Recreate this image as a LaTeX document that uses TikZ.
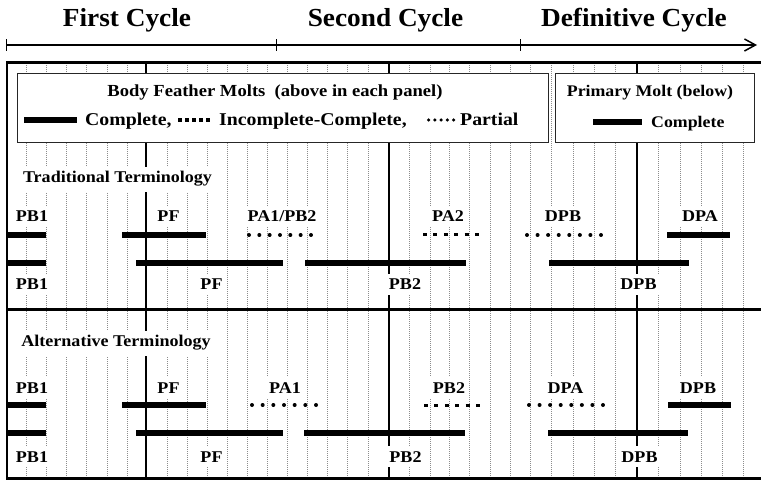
\documentclass[tikz,border=0pt]{standalone}
\usepackage{fontspec}
\setmainfont{Liberation Serif}[FakeStretch=1.1]
\newfontfamily\headfont{Liberation Serif}[FakeStretch=1.05]
\usetikzlibrary{arrows.meta}

\tikzset{
  head/.style={anchor=base, inner sep=0pt, font=\headfont\bfseries\fontsize{26}{26}\selectfont},
  lbl/.style={anchor=base, fill=white, inner xsep=3pt, inner ysep=5pt, font=\bfseries\fontsize{16.4}{16.4}\selectfont},
  legtext/.style={anchor=base, inner sep=0pt, font=\bfseries\fontsize{16.2}{16.2}\selectfont},
  keytext/.style={anchor=base west, inner sep=0pt, font=\bfseries\fontsize{18}{18}\selectfont},
  gridline/.style={gray!90, line width=0.5pt, dash pattern=on 1pt off 1pt},
  yearline/.style={black, line width=2pt},
  frameline/.style={black, line width=3pt},
  legendbox/.style={fill=white, draw=black!85, line width=0.8pt},
  complete/.style={line width=6pt},
  incomplete/.style={line width=3pt, dash pattern=on 4pt off 6.4pt},
  partial/.style={line width=4pt, line cap=round, dash pattern=on 0pt off #1},
}

\begin{document}
\begin{tikzpicture}[x=1pt,y=-1pt]
\useasboundingbox (0,0) rectangle (761,481);

% cycles along the time axis
\node[head] (first) at (127,27) {First Cycle};
\node[head] (second) at (385.5,27) {Second Cycle};
\node[head] (defin) at (634,27) {Definitive Cycle};

\coordinate (A0) at (6,45);
\coordinate (A1) at (276,45);
\coordinate (A2) at (520,45);
\coordinate (A3) at (757,45);
\draw[line width=1.5pt, -{Straight Barb[length=11pt,width=12pt]}] (A0) -- (A3);
\foreach \c in {A0,A1,A2}
  \draw[line width=1pt] ([yshift=-6pt]\c) -- ([yshift=6pt]\c);

% monthly grid
\foreach \x in {26,46,66.7,86.7,107,127,167,187,207,227,247,267,287,307,327,347,368,
                409,430,449,469,490,510,530,551,573,594,615,658,680,701,722,743}
  \draw[gridline] (\x,63) -- (\x,478);
\foreach \x in {146,389,637}
  \draw[yearline] (\x,63) -- (\x,478);

% legend
\draw[legendbox] (17,73) rectangle (548,142);
\draw[legendbox] (555,73) rectangle (754,142);

\node[legtext, font=\bfseries\fontsize{16.9}{16.9}\selectfont] (bodyttl) at (275,97) {Body Feather Molts\ \ (above in each panel)};
\draw[complete, line width=5.5pt] (24,120) -- (77,120);
\node[keytext] (kcomp) at (85,126) {Complete,};
\draw[line width=3.5pt, dash pattern=on 3.5pt off 3.6pt] (178,120) -- (213.5,120);
\node[keytext] (kincomp) at (219,126) {Incomplete-Complete,};
\draw[line width=3.5pt, line cap=round, dash pattern=on 0pt off 6.25pt] (428.5,120) -- (453.6,120);
\node[keytext] (kpart) at (460,126) {Partial};

\node[legtext] (primttl) at (650,97) {Primary Molt (below)};
\draw[complete] (593,122) -- (642,122);
\node[legtext, anchor=base west] (kprim) at (651,128) {Complete};

% Traditional Terminology
\node[lbl] (trad) at (117.5,183) {Traditional Terminology};
\node[lbl] (tPBa) at (32,222) {PB1};
\node[lbl] (tPFa) at (168.5,222) {PF};
\node[lbl] (tPAa) at (282,222) {PA1/PB2};
\node[lbl] (tPAb) at (448,222) {PA2};
\node[lbl] (tDPBa) at (563,222) {DPB};
\node[lbl] (tDPA) at (700,222) {DPA};

\draw[complete] (6,235) -- (46,235);
\draw[complete] (122,235) -- (206,235);
\draw[partial=10.33pt] (249,235) -- (311.1,235);
\draw[incomplete] (423,235) -- (479,235);
\draw[partial=10.57pt] (527,235) -- (601.1,235);
\draw[complete] (667,235) -- (730,235);

\draw[complete] (6,263) -- (46,263);
\draw[complete] (136,263) -- (283,263);
\draw[complete] (305,263) -- (466,263);
\draw[complete] (549,263) -- (689,263);

\node[lbl] (tPBb) at (32,290) {PB1};
\node[lbl] (tPFb) at (211.5,290) {PF};
\node[lbl] (tPBc) at (405,290) {PB2};
\node[lbl] (tDPBb) at (638.5,290) {DPB};

% Alternative Terminology
\node[lbl] (alt) at (116,347) {Alternative Terminology};
\node[lbl] (aPBa) at (32,393) {PB1};
\node[lbl] (aPFa) at (168.5,393) {PF};
\node[lbl] (aPA) at (285,393) {PA1};
\node[lbl] (aPBb) at (449,393) {PB2};
\node[lbl] (aDPA) at (565.5,393) {DPA};
\node[lbl] (aDPBa) at (698,393) {DPB};

\draw[complete] (6,405) -- (46,405);
\draw[complete] (122,405) -- (206,405);
\draw[partial=10.67pt] (252,405) -- (316.1,405);
\draw[incomplete] (424,405) -- (480,405);
\draw[partial=10.57pt] (529,405) -- (603.1,405);
\draw[complete] (668,405) -- (731,405);

\draw[complete] (6,433) -- (46,433);
\draw[complete] (136,433) -- (283,433);
\draw[complete] (304,433) -- (465,433);
\draw[complete] (548,433) -- (688,433);

\node[lbl] (aPBc) at (32,462) {PB1};
\node[lbl] (aPFb) at (211.5,462) {PF};
\node[lbl] (aPBd) at (405.5,462) {PB2};
\node[lbl] (aDPBb) at (639.5,462) {DPB};

% frame
\draw[frameline] (6,63) -- (761,63);
\draw[frameline] (6,310) -- (761,310);
\draw[frameline] (6,478) -- (761,478);
\draw[line width=2.5pt] (7,61.5) -- (7,479.5);
\end{tikzpicture}
\end{document}
